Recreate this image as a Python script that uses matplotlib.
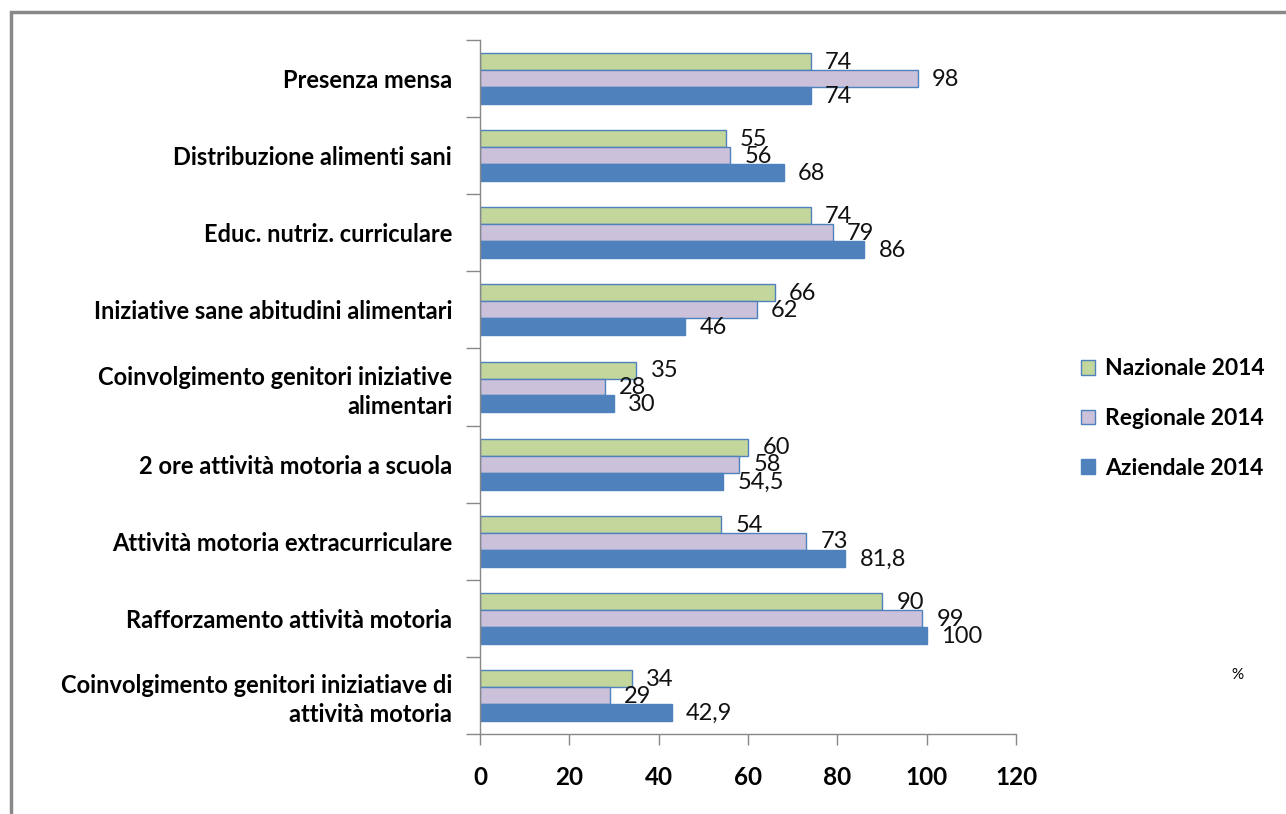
import numpy as np
import matplotlib.pyplot as plt
from matplotlib.patches import Rectangle, Patch

categories = [
    "Presenza mensa",
    "Distribuzione alimenti sani",
    "Educ. nutriz. curriculare",
    "Iniziative sane abitudini alimentari",
    "Coinvolgimento genitori iniziative\nalimentari",
    "2 ore attività motoria a scuola",
    "Attività motoria extracurriculare",
    "Rafforzamento attività motoria",
    "Coinvolgimento genitori iniziatiave di\nattività motoria",
]
nazionale = [74, 55, 74, 66, 35, 60, 54, 90, 34]
regionale = [98, 56, 79, 62, 28, 58, 73, 99, 29]
aziendale = [74, 68, 86, 46, 30, 54.5, 81.8, 100, 42.9]
series_names = ["Nazionale 2014", "Regionale 2014", "Aziendale 2014"]
x_ticks = [0, 20, 40, 60, 80, 100, 120]

colors = ["#C3D69B", "#CCC1DA", "#4F81BD"]
edge = "#4F81BD"

plt.rcParams['font.family'] = ['Lato', 'DejaVu Sans']

fig = plt.figure(figsize=(12.86, 8.14), dpi=100)
W, H = 1286, 814
ax = fig.add_axes([480 / W, 1 - 734 / H, (1016 - 480) / W, (734 - 40) / H])

n = len(categories)
pos = np.arange(n)  # 0 at top
bh = 0.22
offsets = [-bh, 0, bh]
all_series = [nazionale, regionale, aziendale]


def fmt(v):
    s = ("%g" % v)
    return s.replace(".", ",")


for s, (vals, col, off) in enumerate(zip(all_series, colors, offsets)):
    y = pos + off
    ax.barh(y, vals, height=bh, color=col, edgecolor=edge, linewidth=1.0)
    for yy, v in zip(y, vals):
        ax.text(v + 3.2, yy + 0.01, fmt(v), fontsize=17, va="center", ha="left",
                color="#111111")

ax.set_ylim(n - 0.5, -0.5)
ax.set_xlim(0, 120)
ax.set_xticks(x_ticks)
ax.set_xticklabels([str(t) for t in x_ticks], fontsize=17.5, fontweight="bold")
ax.set_yticks(pos)
ax.set_yticklabels(categories, fontsize=17, fontweight="bold", linespacing=1.3)
ax.set_yticks(np.arange(n + 1) - 0.5, minor=True)
ax.tick_params(axis="y", which="major", length=0, pad=20)
ax.tick_params(axis="y", which="minor", length=10, color="#888888", width=1)
ax.tick_params(axis="x", length=8, color="#888888", width=1, pad=15)
for sp in ["top", "right"]:
    ax.spines[sp].set_visible(False)
for sp in ["left", "bottom"]:
    ax.spines[sp].set_color("#888888")
    ax.spines[sp].set_linewidth(1)

handles = [Patch(facecolor=c, edgecolor=edge, linewidth=1.0) for c in colors]
fig.legend(handles, series_names, loc="upper left",
           bbox_to_anchor=(1063 / W, 1 - 340 / H), frameon=False,
           prop={"size": 16.5, "weight": "bold"}, handlelength=0.6,
           handleheight=0.6, handletextpad=0.45, labelspacing=1.25,
           borderpad=0.3)

fig.text(1237 / W, 1 - 675 / H, "%", fontsize=11, ha="center", va="center")

fig.patches.append(Rectangle((11 / W, -0.1), 1.2, 1 - 12 / H + 0.1,
                             transform=fig.transFigure, fill=False,
                             edgecolor="#898989", linewidth=2.5))

fig.savefig("out.png", dpi=100)
